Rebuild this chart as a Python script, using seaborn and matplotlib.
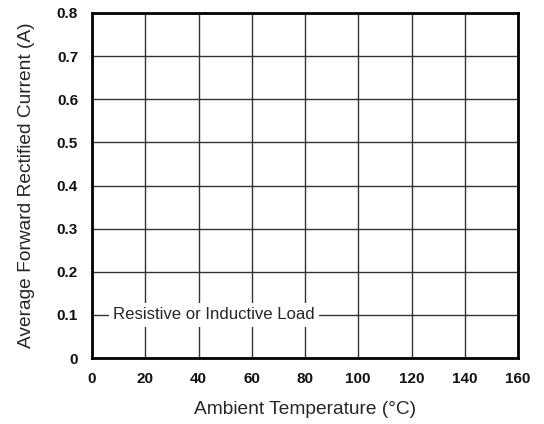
import matplotlib
matplotlib.use("Agg")
import matplotlib.pyplot as plt
import seaborn as sns
import numpy as np

x_ticks = [0, 20, 40, 60, 80, 100, 120, 140, 160]
y_ticks = [0, 0.1, 0.2, 0.3, 0.4, 0.5, 0.6, 0.7, 0.8]
y_tick_labels = ["0", "0.1", "0.2", "0.3", "0.4", "0.5", "0.6", "0.7", "0.8"]
note_text = "Resistive or Inductive Load"
note_x = 45.8
note_y = 0.1

sns.set_style("white")
plt.rcParams['font.family'] = ['Liberation Sans', 'DejaVu Sans']

fig = plt.figure(figsize=(5.44, 4.24), dpi=100)
ax = fig.add_axes([92/544, 1-358/424, 426/544, 345/424])
ax.set_xlim(0, 160)
ax.set_ylim(0, 0.8)
ax.set_xticks(x_ticks)
ax.set_yticks(y_ticks)
ax.set_yticklabels(y_tick_labels)
ax.grid(True, color='#333333', linewidth=1.0)
ax.set_axisbelow(True)
for s in ax.spines.values():
    s.set_color('black')
    s.set_linewidth(2.0)
ax.tick_params(length=0, pad=10, labelsize=11, labelcolor='#111111')
for lab in ax.get_xticklabels() + ax.get_yticklabels():
    lab.set_fontweight('bold')
ax.set_xlabel("Ambient Temperature (°C)", fontsize=13.8, labelpad=11)
ax.set_ylabel("Average Forward Rectified Current (A)", fontsize=13.8, labelpad=16)
ax.text(note_x, note_y, note_text, ha='center', va='center', fontsize=12.1,
        bbox=dict(facecolor='white', edgecolor='none', pad=3), zorder=5)
fig.savefig("out.png", dpi=100)
